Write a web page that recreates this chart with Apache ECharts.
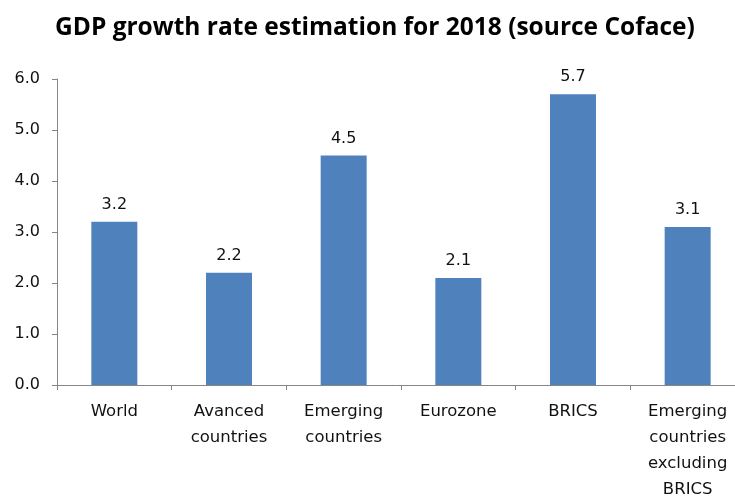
<!DOCTYPE html>
<html><head><meta charset="utf-8">
<script src="https://cdn.jsdelivr.net/npm/echarts@6/dist/echarts.min.js"></script>
<style>html,body{margin:0;padding:0;background:#fff}#c{width:735px;height:497px}</style>
</head><body><div id="c"></div>
<script>
var categories = ['World', 'Avanced\ncountries', 'Emerging\ncountries', 'Eurozone', 'BRICS', 'Emerging\ncountries\nexcluding\nBRICS'];
var values = [3.2, 2.2, 4.5, 2.1, 5.7, 3.1];
var chart = echarts.init(document.getElementById('c'));
chart.setOption({
  animation: false,
  title: {
    text: 'GDP growth rate estimation for 2018 (source Coface)',
    left: 50, top: 11,
    textStyle: {fontFamily: 'Open Sans', fontWeight: 'bold', fontSize: 24.5, color: '#000'}
  },
  grid: {left: 57, top: 79, width: 688, height: 306, outerBoundsMode: 'none', containLabel: false},
  xAxis: {
    type: 'category', data: categories,
    axisLine: {lineStyle: {color: '#868686', width: 1}},
    axisTick: {show: true, length: 5, lineStyle: {color: '#868686'}},
    axisLabel: {interval: 0, margin: 14, fontFamily: 'DejaVu Sans', fontSize: 16.5, color: '#111', lineHeight: 26}
  },
  yAxis: {
    type: 'value', min: 0, max: 6, interval: 1,
    axisLine: {show: true, lineStyle: {color: '#868686', width: 1}},
    axisTick: {show: true, length: 5, lineStyle: {color: '#868686'}},
    splitLine: {show: false},
    axisLabel: {margin: 17, fontFamily: 'DejaVu Sans', fontSize: 16, color: '#111', formatter: function(v){return v.toFixed(1);}}
  },
  series: [{
    type: 'bar', data: values, barWidth: 46,
    itemStyle: {color: '#4F81BD'},
    label: {show: true, position: 'top', distance: 9, fontFamily: 'DejaVu Sans', fontSize: 16, color: '#111', formatter: function(p){return p.value.toFixed(1);}}
  }]
});
</script></body></html>
